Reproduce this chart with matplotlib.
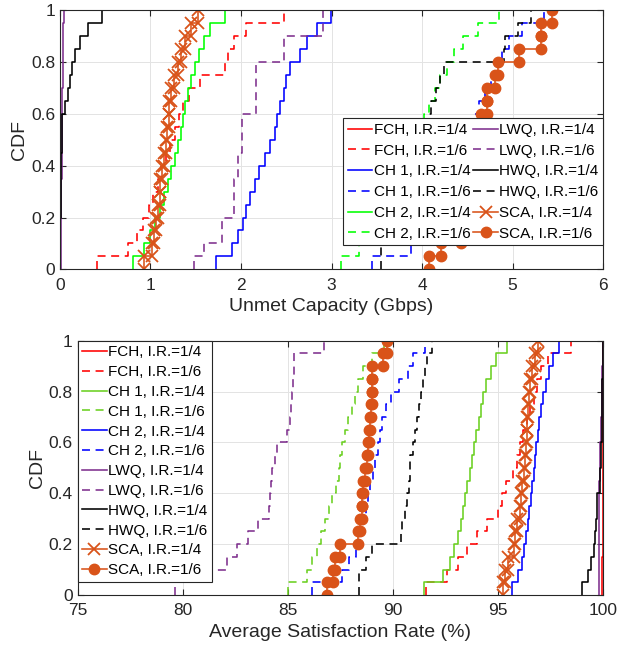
import numpy as np
import matplotlib
matplotlib.use("Agg")
import matplotlib.pyplot as plt
from matplotlib.ticker import FuncFormatter

plt.rcParams['font.family'] = ['Liberation Sans', 'DejaVu Sans']

# ---- top panel: unmet capacity (Gbps), 20 samples per curve ----
cap_fch_4 = [0.0, 0.0, 0.0, 0.0, 0.0, 0.0, 0.0, 0.0, 0.0, 0.0,
             0.0, 0.0, 0.0, 0.0, 0.0, 0.0, 0.0, 0.0, 0.0, 0.005]
cap_fch_6 = [0.41, 0.75, 0.85, 0.92, 0.98, 1.03, 1.08, 1.12, 1.17, 1.22,
             1.27, 1.31, 1.36, 1.42, 1.55, 1.82, 1.86, 1.92, 2.05, 2.48]
cap_ch1_4 = [1.72, 1.9, 1.97, 2.02, 2.06, 2.1, 2.15, 2.2, 2.26, 2.32,
             2.37, 2.4, 2.43, 2.47, 2.5, 2.54, 2.65, 2.73, 2.84, 2.99]
cap_ch1_6 = [3.45, 3.88, 4.0, 4.08, 4.15, 4.22, 4.28, 4.34, 4.4, 4.45,
             4.5, 4.57, 4.63, 4.7, 4.76, 4.81, 4.88, 4.96, 5.1, 5.35]
cap_ch2_4 = [0.81, 0.93, 1.0, 1.05, 1.1, 1.15, 1.19, 1.23, 1.27, 1.3,
             1.34, 1.36, 1.38, 1.41, 1.45, 1.49, 1.54, 1.59, 1.66, 1.82]
cap_ch2_6 = [3.1, 3.3, 3.4, 3.5, 3.58, 3.66, 3.73, 3.8, 3.86, 3.92,
             3.97, 4.02, 4.08, 4.14, 4.2, 4.27, 4.35, 4.45, 4.62, 4.85]
cap_lwq_4 = [0.01, 0.01, 0.01, 0.01, 0.015, 0.015, 0.015, 0.02, 0.02, 0.02,
             0.02, 0.025, 0.025, 0.025, 0.03, 0.03, 0.03, 0.035, 0.035, 0.04]
cap_lwq_6 = [1.48, 1.59, 1.79, 1.79, 1.92, 1.92, 1.92, 1.97, 1.97, 2.01,
             2.01, 2.01, 2.17, 2.17, 2.17, 2.17, 2.47, 2.47, 2.91, 2.91]
cap_hwq_4 = [0.0, 0.0, 0.005, 0.005, 0.01, 0.01, 0.01, 0.015, 0.015, 0.02,
             0.02, 0.02, 0.055, 0.09, 0.11, 0.13, 0.17, 0.22, 0.31, 0.46]
cap_hwq_6 = [3.55, 3.55, 3.57, 3.7, 3.78, 3.85, 3.9, 3.95, 3.98, 4.02,
             4.06, 4.08, 4.1, 4.15, 4.2, 4.24, 4.9, 4.92, 5.06, 5.2]
cap_sca_4 = [0.93, 1.02, 1.04, 1.06, 1.08, 1.1, 1.11, 1.13, 1.15, 1.17,
             1.18, 1.2, 1.21, 1.23, 1.26, 1.3, 1.34, 1.38, 1.45, 1.53]
cap_sca_6 = [4.08, 4.21, 4.43, 4.47, 4.52, 4.55, 4.58, 4.6, 4.62, 4.63,
             4.64, 4.65, 4.72, 4.72, 4.81, 4.84, 5.07, 5.31, 5.31, 5.44]

# ---- bottom panel: average satisfaction rate (%) ----
sat_fch_4 = [99.97, 99.97, 99.97, 99.98, 99.98, 99.98, 99.98, 99.98, 99.98, 99.98,
             99.98, 99.98, 99.99, 99.99, 99.99, 99.99, 99.99, 99.99, 99.99, 99.99]
sat_fch_6 = [91.6, 92.6, 93.1, 93.55, 94.0, 94.5, 95.0, 95.2, 95.4, 95.7,
             95.9, 96.05, 96.2, 96.4, 96.55, 96.7, 96.85, 97.05, 97.4, 98.5]
sat_ch1_4 = [91.5, 92.4, 92.7, 92.9, 93.1, 93.25, 93.36, 93.45, 93.55, 93.65,
             93.75, 93.85, 93.98, 94.1, 94.2, 94.3, 94.45, 94.65, 94.9, 95.43]
sat_ch1_6 = [85.0, 85.9, 86.15, 86.4, 86.6, 86.78, 86.95, 87.1, 87.28, 87.42,
             87.5, 87.6, 87.7, 87.85, 88.05, 88.2, 88.35, 88.6, 89.0, 89.6]
sat_ch2_4 = [95.67, 95.95, 96.14, 96.25, 96.35, 96.43, 96.5, 96.57, 96.63, 96.7,
             96.76, 96.82, 96.9, 96.97, 97.05, 97.15, 97.28, 97.42, 97.6, 97.93]
sat_ch2_6 = [86.14, 87.6, 87.9, 88.25, 88.4, 88.55, 88.7, 88.82, 88.9, 89.05,
             89.16, 89.3, 89.4, 89.5, 89.68, 89.9, 90.3, 90.7, 90.95, 91.54]
sat_lwq_4 = [99.8, 99.8, 99.81, 99.81, 99.82, 99.82, 99.82, 99.83, 99.83, 99.84,
             99.86, 99.88, 99.9, 99.92, 99.94, 99.95, 99.96, 99.97, 99.98, 99.99]
sat_lwq_6 = [79.63, 79.63, 82.1, 82.6, 83.1, 83.6, 84.1, 84.15, 84.2, 84.25,
             84.4, 84.5, 84.95, 85.1, 85.15, 85.2, 85.25, 85.3, 85.3, 86.7]
sat_hwq_4 = [99.0, 99.3, 99.45, 99.55, 99.6, 99.65, 99.7, 99.72, 99.85, 99.88,
             99.9, 99.92, 99.93, 99.94, 99.95, 99.96, 99.97, 99.98, 99.99, 100.0]
sat_hwq_6 = [88.37, 88.37, 88.7, 89.0, 90.4, 90.45, 90.6, 90.67, 90.75, 90.8,
             90.82, 90.95, 91.05, 91.14, 91.25, 91.35, 91.45, 91.55, 91.62, 91.86]
sat_sca_4 = [95.22, 95.35, 95.5, 95.75, 95.82, 95.9, 96.03, 96.1, 96.15, 96.22,
             96.3, 96.35, 96.38, 96.4, 96.45, 96.5, 96.53, 96.6, 96.75, 96.9]
sat_sca_6 = [86.86, 87.17, 87.25, 87.49, 88.36, 88.44, 88.52, 88.55, 88.6, 88.68,
             88.79, 88.84, 88.88, 88.92, 88.95, 89.0, 89.03, 89.03, 89.55, 89.71]

RED = '#FF0000'
BLUE = '#0000FF'
GREEN = '#00FF00'
GREEN2 = '#6BD020'
PURPLE = '#7E2F8E'
BLACK = '#000000'
ORANGE = '#D95319'
DASH = (0, (5, 3.5))


def ecdf_xy(samples):
    s = np.sort(np.asarray(samples, dtype=float))
    n = len(s)
    x = np.repeat(s, 2)
    y = np.repeat(np.arange(n + 1) / n, 2)[1:-1]
    return x, y


def draw(ax, samples, color, ls='-', marker=None, label=None):
    x, y = ecdf_xy(samples)
    kw = dict(color=color, lw=1.15, ls=ls, label=label)
    if marker == 'x':
        kw.update(marker='x', ms=8, mew=1.3)
    elif marker == 'o':
        kw.update(marker='o', ms=7.5)
    ax.plot(x, y, **kw)


def style(ax):
    ax.grid(True, color='#e3e3e3', lw=0.7)
    ax.set_axisbelow(True)
    ax.tick_params(direction='in', top=True, right=True, labelsize=12.5,
                   colors='#262626', length=4)
    ax.tick_params(axis='x', pad=6)
    for sp in ax.spines.values():
        sp.set_color('#262626')
        sp.set_linewidth(0.8)
    ax.set_ylim(0, 1)
    ax.set_yticks(np.arange(0, 1.01, 0.2))
    ax.yaxis.set_major_formatter(FuncFormatter(lambda v, p: '%g' % round(v, 1)))
    ax.set_ylabel('CDF', fontsize=14, color='#262626', labelpad=2)


fig = plt.figure(figsize=(6.18, 6.52), dpi=100)

# top panel
ax1 = fig.add_axes([0.097, 0.587, 0.879, 0.397])
draw(ax1, cap_fch_4, RED, label='FCH, I.R.=1/4')
draw(ax1, cap_fch_6, RED, DASH, label='FCH, I.R.=1/6')
draw(ax1, cap_ch1_4, BLUE, label='CH 1, I.R.=1/4')
draw(ax1, cap_ch1_6, BLUE, DASH, label='CH 1, I.R.=1/6')
draw(ax1, cap_ch2_4, GREEN, label='CH 2, I.R.=1/4')
draw(ax1, cap_ch2_6, GREEN, DASH, label='CH 2, I.R.=1/6')
draw(ax1, cap_lwq_4, PURPLE, label='LWQ, I.R.=1/4')
draw(ax1, cap_lwq_6, PURPLE, DASH, label='LWQ, I.R.=1/6')
draw(ax1, cap_hwq_4, BLACK, label='HWQ, I.R.=1/4')
draw(ax1, cap_hwq_6, BLACK, DASH, label='HWQ, I.R.=1/6')
draw(ax1, cap_sca_4, ORANGE, marker='x', label='SCA, I.R.=1/4')
draw(ax1, cap_sca_6, ORANGE, marker='o', label='SCA, I.R.=1/6')
ax1.set_xlim(0, 6)
ax1.set_xticks(range(0, 7))
style(ax1)
ax1.set_xlabel('Unmet Capacity (Gbps)', fontsize=14, color='#262626')
leg = ax1.legend(loc='lower right', bbox_to_anchor=(1.0, 0.093), ncol=2,
                 fontsize=11, fancybox=False, framealpha=1, edgecolor='#262626',
                 borderaxespad=0, borderpad=0.3, labelspacing=0.44,
                 handlelength=1.6, handletextpad=0.1, columnspacing=0.2)
leg.get_frame().set_linewidth(0.8)

# bottom panel
ax2 = fig.add_axes([0.1257, 0.0874, 0.85, 0.39])
draw(ax2, sat_fch_4, RED, label='FCH, I.R.=1/4')
draw(ax2, sat_fch_6, RED, DASH, label='FCH, I.R.=1/6')
draw(ax2, sat_ch1_4, GREEN2, label='CH 1, I.R.=1/4')
draw(ax2, sat_ch1_6, GREEN2, DASH, label='CH 1, I.R.=1/6')
draw(ax2, sat_ch2_4, BLUE, label='CH 2, I.R.=1/4')
draw(ax2, sat_ch2_6, BLUE, DASH, label='CH 2, I.R.=1/6')
draw(ax2, sat_lwq_4, PURPLE, label='LWQ, I.R.=1/4')
draw(ax2, sat_lwq_6, PURPLE, DASH, label='LWQ, I.R.=1/6')
draw(ax2, sat_hwq_4, BLACK, label='HWQ, I.R.=1/4')
draw(ax2, sat_hwq_6, BLACK, DASH, label='HWQ, I.R.=1/6')
draw(ax2, sat_sca_4, ORANGE, marker='x', label='SCA, I.R.=1/4')
draw(ax2, sat_sca_6, ORANGE, marker='o', label='SCA, I.R.=1/6')
ax2.set_xlim(75, 100)
ax2.set_xticks(range(75, 101, 5))
style(ax2)
ax2.set_xlabel('Average Satisfaction Rate (%)', fontsize=14, color='#262626')
leg2 = ax2.legend(loc='upper left', bbox_to_anchor=(0.0, 1.0), ncol=1,
                  fontsize=11, fancybox=False, framealpha=1, edgecolor='#262626',
                  borderaxespad=0, borderpad=0.3, labelspacing=0.38,
                  handlelength=1.6, handletextpad=0.1)
leg2.get_frame().set_linewidth(0.8)

fig.savefig('out.png', dpi=100)
